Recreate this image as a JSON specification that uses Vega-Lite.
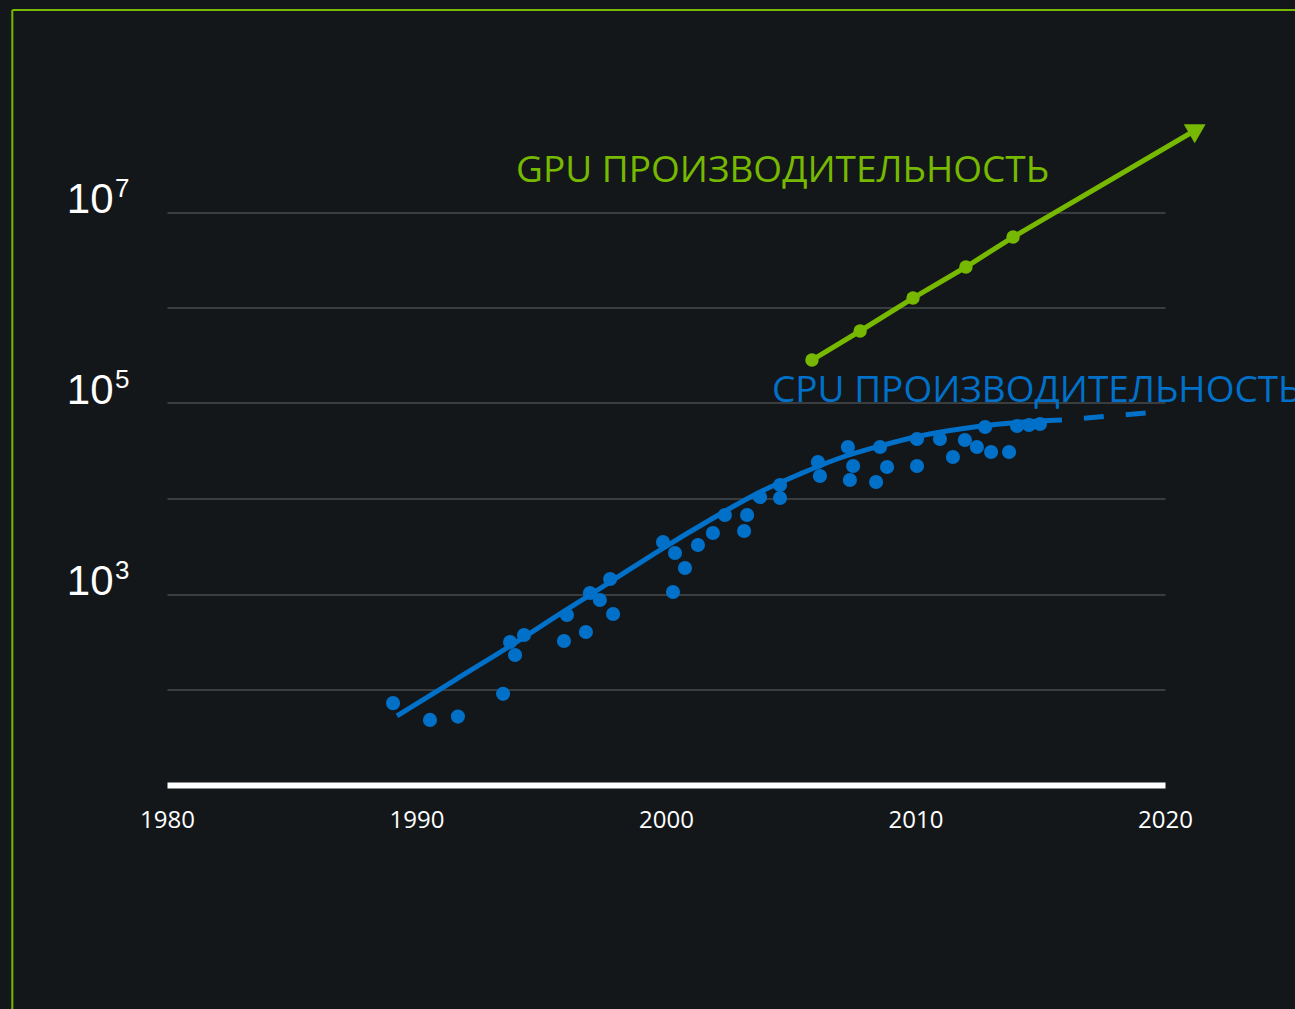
{
  "$schema": "https://vega.github.io/schema/vega-lite/v6.json",
  "width": 998,
  "height": 668.5,
  "autosize": {"type": "none"},
  "padding": {"left": 167, "top": 116.5, "right": 130, "bottom": 224},
  "background": "#14171a",
  "config": {"view": {"stroke": null}},
  "datasets": {
    "cpu": [
      {"year": 1989.06, "perf": 72}, {"year": 1990.54, "perf": 48}, {"year": 1991.66, "perf": 52},
      {"year": 1993.47, "perf": 90}, {"year": 1993.75, "perf": 314}, {"year": 1993.95, "perf": 230},
      {"year": 1994.31, "perf": 372}, {"year": 1995.91, "perf": 322}, {"year": 1996.03, "perf": 603},
      {"year": 1996.79, "perf": 400}, {"year": 1996.95, "perf": 1024}, {"year": 1997.35, "perf": 865},
      {"year": 1997.76, "perf": 1436}, {"year": 1997.88, "perf": 617}, {"year": 1999.88, "perf": 3505},
      {"year": 2000.28, "perf": 1050}, {"year": 2000.36, "perf": 2688}, {"year": 2000.76, "perf": 1871},
      {"year": 2001.28, "perf": 3258}, {"year": 2001.88, "perf": 4352}, {"year": 2002.36, "perf": 6718},
      {"year": 2003.13, "perf": 4566}, {"year": 2003.25, "perf": 6718}, {"year": 2003.77, "perf": 10370},
      {"year": 2004.57, "perf": 13840}, {"year": 2004.57, "perf": 10120}, {"year": 2006.09, "perf": 24100},
      {"year": 2006.17, "perf": 17200}, {"year": 2007.29, "perf": 34600}, {"year": 2007.37, "perf": 15630},
      {"year": 2007.5, "perf": 21900}, {"year": 2008.42, "perf": 14890}, {"year": 2008.58, "perf": 34600},
      {"year": 2008.86, "perf": 21380}, {"year": 2010.06, "perf": 41980}, {"year": 2010.06, "perf": 21900},
      {"year": 2010.98, "perf": 41980}, {"year": 2011.5, "perf": 27210}, {"year": 2011.98, "perf": 41000},
      {"year": 2012.46, "perf": 34600}, {"year": 2012.79, "perf": 56070}, {"year": 2013.03, "perf": 30680},
      {"year": 2013.75, "perf": 30680}, {"year": 2014.07, "perf": 57420}, {"year": 2014.55, "perf": 58850},
      {"year": 2014.99, "perf": 60260}
    ],
    "cpuTrend": [
      {"year": 1989.22, "perf": 52.8, "part": "fit"}, {"year": 1991.54, "perf": 125.7, "part": "fit"},
      {"year": 1993.75, "perf": 285, "part": "fit"}, {"year": 1995.75, "perf": 618, "part": "fit"},
      {"year": 1997.76, "perf": 1336, "part": "fit"}, {"year": 1999.76, "perf": 2888, "part": "fit"},
      {"year": 2001.76, "perf": 5956, "part": "fit"}, {"year": 2003.77, "perf": 11700, "part": "fit"},
      {"year": 2005.37, "perf": 18050, "part": "fit"}, {"year": 2006.97, "perf": 26550, "part": "fit"},
      {"year": 2008.58, "perf": 35450, "part": "fit"}, {"year": 2010.18, "perf": 45110, "part": "fit"},
      {"year": 2011.78, "perf": 53400, "part": "fit"}, {"year": 2013.39, "perf": 60260, "part": "fit"},
      {"year": 2014.99, "perf": 64770, "part": "fit"}, {"year": 2015.87, "perf": 66370, "part": "fit"},
      {"year": 2015.87, "perf": 66370, "part": "projection"}, {"year": 2019.24, "perf": 78600, "part": "projection"}
    ],
    "gpu": [
      {"year": 2005.85, "perf": 281800, "kind": "measured"},
      {"year": 2007.78, "perf": 567500, "kind": "measured"},
      {"year": 2009.9, "perf": 1256000, "kind": "measured"},
      {"year": 2012.02, "perf": 2655000, "kind": "measured"},
      {"year": 2013.91, "perf": 5470000, "kind": "measured"},
      {"year": 2021.3, "perf": 74000000, "kind": "projection"}
    ],
    "gpuArrow": [{"year": 2021.3, "perf": 74000000}],
    "labels": [
      {"year": 1993.99, "perf": 20600000, "series": "GPU", "text": "GPU ПРОИЗВОДИТЕЛЬНОСТЬ"},
      {"year": 2004.25, "perf": 102400, "series": "CPU", "text": "CPU ПРОИЗВОДИТЕЛЬНОСТЬ"}
    ],
    "exponents": [
      {"perf": 10000000, "exp": "7"},
      {"perf": 100000, "exp": "5"},
      {"perf": 1000, "exp": "3"}
    ]
  },
  "layer": [
    {
      "data": {"name": "cpu"},
      "mark": {"type": "circle", "color": "#0070c9", "size": 200, "opacity": 1},
      "encoding": {
        "x": {
          "field": "year", "type": "quantitative", "title": null,
          "scale": {"domain": [1980, 2020], "nice": false, "zero": false},
          "axis": {
            "title": null, "values": [1980, 1990, 2000, 2010, 2020], "format": "d",
            "grid": false, "ticks": false, "domain": true, "domainColor": "#ffffff", "domainWidth": 6,
            "labelColor": "#ffffff", "labelFont": "Open Sans", "labelFontSize": 24, "labelPadding": 23,
            "labelFlush": false, "labelOverlap": false
          }
        },
        "y": {
          "field": "perf", "type": "quantitative", "title": null,
          "scale": {"type": "log", "domain": [10, 100000000], "nice": false},
          "axis": {
            "title": null, "values": [100, 1000, 10000, 100000, 1000000, 10000000],
            "grid": true, "gridColor": "#3a3d40", "gridWidth": 2,
            "ticks": false, "domain": false,
            "labelExpr": "datum.value == 10000000 || datum.value == 100000 || datum.value == 1000 ? '10' : ''",
            "labelColor": "#ffffff", "labelFont": "Liberation Sans", "labelFontSize": 42,
            "labelBaseline": "alphabetic", "labelPadding": 54, "labelOverlap": false, "labelFlush": false
          }
        }
      }
    },
    {
      "data": {"values": [{"edge": "top"}]},
      "mark": {"type": "rule", "color": "#76b900", "strokeWidth": 2},
      "encoding": {
        "x": {"datum": 1973.8, "type": "quantitative", "title": null},
        "x2": {"datum": 2030},
        "y": {"datum": 1300000000, "type": "quantitative", "title": null}
      }
    },
    {
      "data": {"values": [{"edge": "left"}]},
      "mark": {"type": "rule", "color": "#76b900", "strokeWidth": 2},
      "encoding": {
        "x": {"datum": 1973.8, "type": "quantitative", "title": null},
        "y": {"datum": 1300000000, "type": "quantitative", "title": null},
        "y2": {"datum": 0.01}
      }
    },
    {
      "data": {"name": "exponents"},
      "mark": {"type": "text", "align": "right", "baseline": "alphabetic", "dy": -15, "font": "Liberation Sans", "fontSize": 26, "color": "#ffffff"},
      "encoding": {
        "x": {"datum": 1978.5, "type": "quantitative", "title": null},
        "y": {"field": "perf", "type": "quantitative", "title": null},
        "text": {"field": "exp"}
      }
    },
    {
      "data": {"name": "cpuTrend"},
      "transform": [{"filter": "datum.part == 'fit'"}],
      "mark": {"type": "line", "color": "#0070c9", "strokeWidth": 5, "interpolate": "monotone"},
      "encoding": {
        "x": {"field": "year", "type": "quantitative", "title": null},
        "y": {"field": "perf", "type": "quantitative", "title": null}
      }
    },
    {
      "data": {"name": "cpuTrend"},
      "transform": [{"filter": "datum.part == 'projection'"}],
      "mark": {"type": "line", "color": "#0070c9", "strokeWidth": 5, "strokeDash": [20, 22], "strokeDashOffset": 20},
      "encoding": {
        "x": {"field": "year", "type": "quantitative", "title": null},
        "y": {"field": "perf", "type": "quantitative", "title": null}
      }
    },
    {
      "data": {"name": "gpu"},
      "mark": {"type": "line", "color": "#76b900", "strokeWidth": 5},
      "encoding": {
        "x": {"field": "year", "type": "quantitative", "title": null},
        "y": {"field": "perf", "type": "quantitative", "title": null}
      }
    },
    {
      "data": {"name": "gpu"},
      "transform": [{"filter": "datum.kind == 'measured'"}],
      "mark": {"type": "circle", "color": "#76b900", "size": 180, "opacity": 1},
      "encoding": {
        "x": {"field": "year", "type": "quantitative", "title": null},
        "y": {"field": "perf", "type": "quantitative", "title": null}
      }
    },
    {
      "data": {"name": "gpuArrow"},
      "mark": {"type": "point", "shape": "triangle-right", "angle": 330, "filled": true, "color": "#76b900", "size": 480, "opacity": 1},
      "encoding": {
        "x": {"field": "year", "type": "quantitative", "title": null},
        "y": {"field": "perf", "type": "quantitative", "title": null}
      }
    },
    {
      "data": {"name": "labels"},
      "mark": {"type": "text", "align": "left", "baseline": "alphabetic", "font": "Open Sans", "fontSize": 37},
      "encoding": {
        "x": {"field": "year", "type": "quantitative", "title": null},
        "y": {"field": "perf", "type": "quantitative", "title": null},
        "text": {"field": "text"},
        "color": {"field": "series", "type": "nominal", "scale": {"domain": ["GPU", "CPU"], "range": ["#76b900", "#0070c9"]}, "legend": null}
      }
    }
  ]
}
